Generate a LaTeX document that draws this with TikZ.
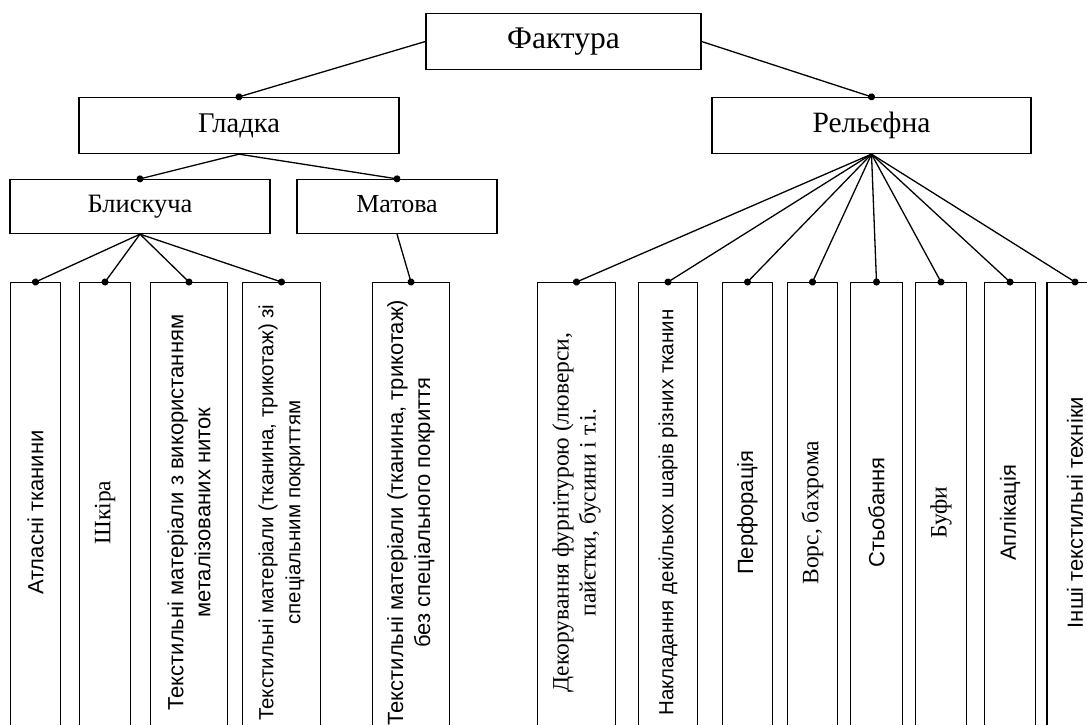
\documentclass[tikz,border=0pt]{standalone}
\usepackage{fontspec}
\setmainfont{Liberation Serif}
\newfontfamily\leafsans{Liberation Sans}
\usetikzlibrary{arrows.meta, positioning}

\tikzset{
	head/.style={draw, line width=1.3pt, minimum height=56pt, inner sep=0pt, execute at begin node=\strut},
	leaf/.style={draw, line width=1.3pt, rotate=90, anchor=east, minimum width=460pt, inner sep=0pt, align=center},
	leafsf/.style={leaf, font=\leafsans\fontsize{22}{27}\selectfont},
	leafrm/.style={leaf, font=\fontsize{23.5}{27}\selectfont},
	link/.style={line width=1.3pt, -{Circle[length=7pt]}, shorten >=-3.5pt},
}

\begin{document}
\begin{tikzpicture}[x=1pt, y=-1pt]
	\useasboundingbox (0,0) rectangle (1087,724);
	\clip (0,0) rectangle (1087,724);
	
	% upper levels
	\node[head, minimum width=275pt, font=\fontsize{31.5}{36}\selectfont] (fak) at (563.5,41.5) {Фактура};
	\node[head, minimum width=320pt, font=\fontsize{28.5}{34}\selectfont] (gla) at (239,125.5) {Гладка};
	\node[head, minimum width=319pt, font=\fontsize{29.5}{34}\selectfont] (rel) at (871.5,125.5) {Рельєфна};
	\node[head, minimum width=260pt, minimum height=54pt, font=\fontsize{26.5}{32}\selectfont] (bli) at (140,206.5) {Блискуча};
	\node[head, minimum width=200pt, minimum height=54pt, font=\fontsize{26}{32}\selectfont] (mat) at (397,206.5) {Матова};
	
	% leaves of the smooth branch
	\node[leafsf, minimum height=50pt] (atl) at (35.5,282) {Атласні тканини};
	\node[leafrm, minimum height=51pt] (shk) at (105,282) {Шкіра};
	\node[leafsf, minimum height=77pt] (met) at (189,282) {Текстильні матеріали з використанням\\металізованих ниток};
	\node[leafsf, minimum height=78pt, font=\leafsans\fontsize{20.5}{27}\selectfont] (pok) at (281.5,282) {Текстильні матеріали (тканина, трикотаж) зі\\спеціальним покриттям};
	\node[leafsf, minimum height=77pt] (bez) at (411,282) {Текстильні матеріали (тканина, трикотаж)\\без спеціального покриття};
	
	% leaves of the relief branch
	\node[leafrm, minimum height=78pt] (dek) at (576.5,282) {Декорування фурнітурою (люверси,\\пайєтки, бусини і т.і.};
	\node[leafsf, minimum height=59pt, font=\leafsans\fontsize{20.5}{27}\selectfont] (nak) at (668,282) {Накладання декількох шарів різних тканин};
	\node[leafsf, minimum height=50pt] (per) at (747.5,282) {Перфорація};
	\node[leafrm, minimum height=50pt] (vor) at (812.5,282) {Ворс, бахрома};
	\node[leafsf, minimum height=52pt] (sto) at (876.5,282) {Стьобання};
	\node[leafrm, minimum height=51pt] (buf) at (941,282) {Буфи};
	\node[leafsf, minimum height=51pt] (apl) at (1010,282) {Аплікація};
	\node[leafsf, minimum height=56pt] (inshi) at (1075,282) {Інші текстильні техніки};
	
	\draw[link] (fak.west) -- (gla.north);
	\draw[link] (fak.east) -- (rel.north);
	\draw[link] (gla.south) -- (bli.north);
	\draw[link] (gla.south) -- (mat.north);
	\foreach \leafname in {atl,shk,met,pok}
		\draw[link] (bli.south) -- (\leafname.east);
	\draw[link] (mat.south) -- (bez.east);
	\foreach \leafname in {dek,nak,per,vor,sto,buf,apl,inshi}
		\draw[link] (rel.south) -- (\leafname.east);
\end{tikzpicture}
\end{document}
